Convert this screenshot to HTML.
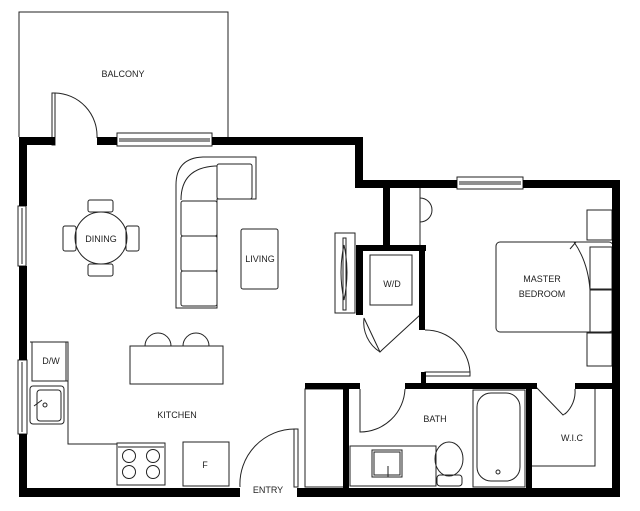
<!DOCTYPE html>
<html><head><meta charset="utf-8"><style>
html,body{margin:0;padding:0;background:#fff;}
svg{display:block;}
text{font-family:"Liberation Sans",sans-serif;font-size:9px;fill:#222;text-anchor:middle;}
</style></head><body>
<svg width="640" height="511" viewBox="0 0 640 511" xmlns="http://www.w3.org/2000/svg">
<g fill="none" stroke="#222" stroke-width="1">
<!-- balcony -->
<polyline points="19,137 19,12 228,12 228,137"/>
<!-- balcony door -->
<rect x="52" y="93" width="3" height="52"/>
<path d="M55,93 A43,43 0 0 1 97,138"/>
<!-- windows -->
<rect x="117" y="133" width="95" height="13"/><line x1="119" y1="139" x2="210" y2="139"/><line x1="119" y1="141" x2="210" y2="141"/>
<rect x="457" y="177" width="66" height="12"/><line x1="459" y1="182" x2="521" y2="182"/><line x1="459" y1="184" x2="521" y2="184"/>
<rect x="18" y="206" width="8" height="60"/><line x1="22" y1="208" x2="22" y2="264"/>
<rect x="18" y="360" width="9" height="74"/><line x1="22" y1="362" x2="22" y2="432"/>
<!-- sofa -->
<path d="M176,256 L176,185 Q176,158 203,157 L256,157 L256,199 L217,199 L217,308 L176,308 Z"/>
<path d="M181,200 Q181,168 215,166 L217,166"/>
<rect x="217" y="164" width="35" height="35" rx="2"/>
<rect x="181" y="201" width="36" height="35" rx="2"/>
<rect x="181" y="236" width="36" height="35" rx="2"/>
<rect x="181" y="271" width="36" height="35" rx="2"/>
<rect x="241" y="229" width="37" height="60" rx="2"/>
<!-- tv -->
<rect x="335" y="233" width="20" height="80"/><rect x="343" y="238" width="3" height="72"/>
<path d="M344,245 Q338,272 344,300 Q350,272 344,245"/>
<!-- dining -->
<circle cx="101" cy="238" r="26"/>
<rect x="88" y="200" width="25" height="12" rx="2"/><rect x="88" y="264" width="25" height="12" rx="2"/>
<rect x="63" y="226" width="13" height="25" rx="2"/><rect x="126" y="226" width="13" height="25" rx="2"/>
<!-- island -->
<rect x="130" y="346" width="93" height="38"/>
<path d="M145,346 A13,13 0 0 1 171,346"/><path d="M183,346 A13,13 0 0 1 209,346"/>
<!-- counter -->
<polyline points="30,342 68,342 68,444 117,444"/>
<rect x="32" y="342" width="36" height="39"/><line x1="66" y1="342" x2="66" y2="381"/>
<rect x="30" y="386" width="34" height="38" rx="3"/><rect x="37" y="390" width="24" height="31" rx="3"/>
<line x1="34" y1="406" x2="42" y2="400"/><circle cx="45" cy="405" r="2"/>
<!-- stove -->
<rect x="117" y="443" width="48" height="42"/><line x1="118" y1="447" x2="164" y2="447"/>
<circle cx="129" cy="456" r="6.5"/><circle cx="153" cy="456" r="6.5"/><circle cx="129" cy="472" r="6.5"/><circle cx="153" cy="472" r="6.5"/>
<rect x="183" y="442" width="46" height="44"/>
<!-- entry door -->
<rect x="294" y="429" width="4" height="58"/><path d="M295,429 A55,55 0 0 0 240,487"/>
<!-- coat closet -->
<line x1="420" y1="188" x2="420" y2="248"/>
<path d="M420,198 A12,12 0 0 1 420,222"/>
<!-- W/D -->
<rect x="370" y="255" width="42" height="50"/>
<path d="M364,318 L380,352 L382,350 L420,315"/>
<path d="M364,318 A35,35 0 0 0 380,352"/>
<!-- bedroom door -->
<rect x="425" y="372" width="45" height="4"/><path d="M425,330 A45,45 0 0 1 470,372"/>
<!-- bed -->
<rect x="496" y="242" width="117" height="90" rx="4"/>
<path d="M574,242 Q588,262 590,290"/><path d="M570,249 L576,242"/>
<rect x="587" y="210" width="25" height="30"/><rect x="590" y="247" width="22" height="42"/><rect x="590" y="290" width="22" height="42"/><rect x="587" y="333" width="25" height="33"/>
<!-- bath -->
<rect x="305" y="389" width="40" height="98"/>
<path d="M360,389 L360,432 A45,45 0 0 0 405,389"/>
<rect x="350" y="446" width="86" height="40"/><rect x="372" y="450" width="30" height="27"/><rect x="374" y="452" width="26" height="23"/>
<line x1="388" y1="466" x2="388" y2="477"/>
<ellipse cx="449" cy="459" rx="14" ry="17"/><rect x="437" y="475" width="25" height="11" rx="3"/>
<rect x="473" y="390" width="52" height="97"/><rect x="477" y="393" width="43" height="88" rx="14"/><circle cx="498" cy="472" r="2"/>
<!-- WIC -->
<path d="M536,387 L563,415 L566,413"/><path d="M575,389 A30,30 0 0 1 565,414"/>
<polyline points="531,466 595,466 595,389"/>
</g>
<g fill="#000">
<!-- exterior walls -->
<rect x="19" y="137" width="36" height="8"/>
<rect x="97" y="137" width="20" height="8"/>
<rect x="212" y="137" width="151" height="8"/>
<rect x="355" y="137" width="8" height="51"/>
<rect x="355" y="180" width="102" height="8"/>
<rect x="523" y="180" width="97" height="8"/>
<rect x="612" y="180" width="8" height="317"/>
<rect x="19" y="137" width="8" height="69"/>
<rect x="19" y="266" width="8" height="94"/>
<rect x="19" y="434" width="8" height="63"/>
<rect x="19" y="488" width="221" height="9"/>
<rect x="297" y="488" width="323" height="9"/>
<!-- interior -->
<rect x="383" y="188" width="7" height="60"/>
<rect x="356" y="245" width="70" height="6"/>
<rect x="356" y="245" width="7" height="70"/>
<rect x="419" y="245" width="6" height="85"/>
<rect x="421" y="372" width="5" height="12"/>
<rect x="305" y="383" width="55" height="6"/>
<rect x="405" y="383" width="132" height="6"/>
<rect x="575" y="383" width="45" height="6"/>
<rect x="343" y="389" width="6" height="99"/>
<rect x="526" y="389" width="6" height="99"/>
</g>
<text x="123" y="77">BALCONY</text>
<text x="101" y="242">DINING</text>
<text x="260" y="262">LIVING</text>
<text x="392" y="287">W/D</text>
<text x="542" y="282">MASTER</text>
<text x="542" y="297">BEDROOM</text>
<text x="51" y="364">D/W</text>
<text x="177" y="418">KITCHEN</text>
<text x="205" y="468">F</text>
<text x="268" y="493">ENTRY</text>
<text x="435" y="422">BATH</text>
<text x="572" y="441">W.I.C</text>
</svg>
</body></html>
